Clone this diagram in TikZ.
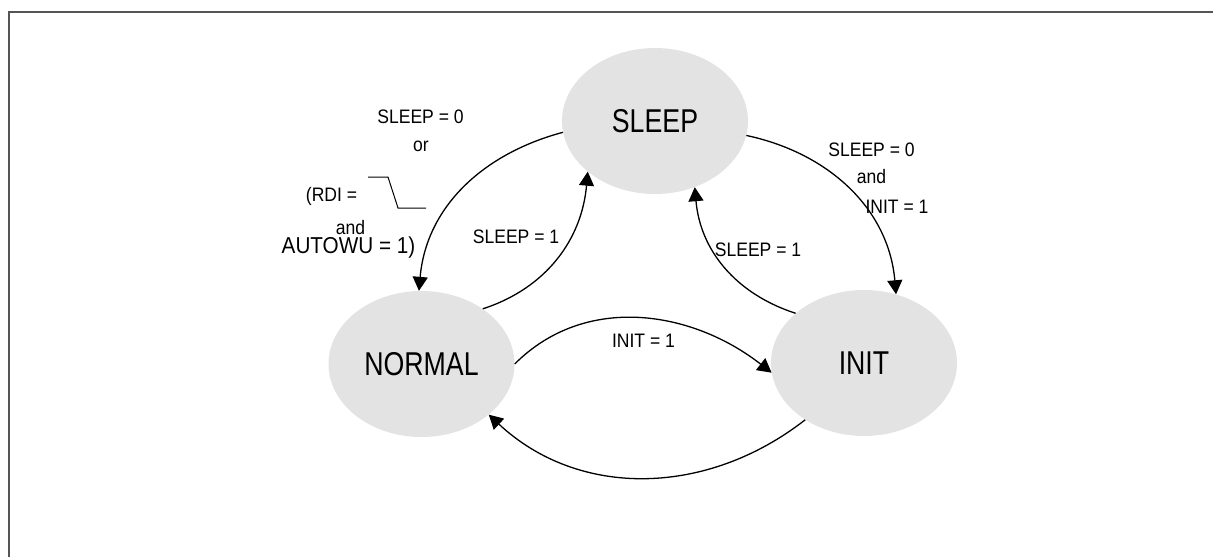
\documentclass[tikz,border=0pt]{standalone}
\usepackage{fontspec}
\setmainfont{Liberation Sans}
\newfontfamily\statefont{Liberation Sans}[FakeStretch=0.81]
\newfontfamily\condfont{Liberation Sans}[FakeStretch=0.9]
\definecolor{statefill}{RGB}{227, 227, 227}
\definecolor{framegray}{RGB}{85, 85, 85}
\usetikzlibrary{arrows.meta, shapes.geometric}

\begin{document}
\begin{tikzpicture}[x=1pt, y=1pt,
        state/.style={ellipse, fill=statefill, minimum width=186pt, minimum height=146pt,
          inner sep=0pt, font=\statefont\fontsize{33}{38}\selectfont},
        cond/.style={inner sep=0pt, anchor=base, font=\condfont\fontsize{19.5}{23}\selectfont},
        trans/.style={-{Triangle[length=14pt, width=15pt]}, line width=1.3pt},
      ]
        \useasboundingbox (0,0) rectangle (1213,-557);
        \draw[framegray, line width=2pt] (8.5,-557) -- (8.5,-12) -- (1213,-12);

        % states
        \node[state] (sleep) at (655,-121) {SLEEP};
        \node[state] (normal) at (421.5,-364) {NORMAL};
        \node[state] (init) at (864,-363) {INIT};

        % transitions
        \draw[trans] (sleep.187) to[out=195, in=85] (normal.92);
        \draw[trans] (normal.42) to[out=18, in=-95] (sleep.217);
        \draw[trans] (init.144) to[out=162, in=-85] (sleep.301);
        \draw[trans] (sleep.351) to[out=-12, in=95] (init.65);
        \draw[trans] (normal.0) to[out=45, in=142] (init.186);
        \draw[trans] (init.224) to[out=218, in=-43] (normal.323);

        % conditions
        \node[cond] (wakeup) at (420.5,-123) {SLEEP = 0};
        \node[cond] (wakeor) at (421,-151) {or};
        \node[cond] (rdi) at (331.5,-201) {(RDI =};
        \draw[line width=1pt] (368,-177) -- (388,-177) -- (398,-208) -- (426,-208);
        \node[cond] (wakeand) at (350.5,-234) {and};
        \node[cond, font=\condfont\fontsize{23}{27}\selectfont] (autowu) at (348.5,-253) {AUTOWU = 1)};
        \node[cond] (gosleepn) at (516,-243) {SLEEP = 1};
        \node[cond] (toinit) at (871.5,-156) {SLEEP = 0};
        \node[cond] (toinitand) at (871.5,-183) {and};
        \node[cond] (toinitset) at (897,-213) {INIT = 1};
        \node[cond] (gosleepi) at (758,-256) {SLEEP = 1};
        \node[cond] (initset) at (643.5,-347) {INIT = 1};
      \end{tikzpicture}
\end{document}
